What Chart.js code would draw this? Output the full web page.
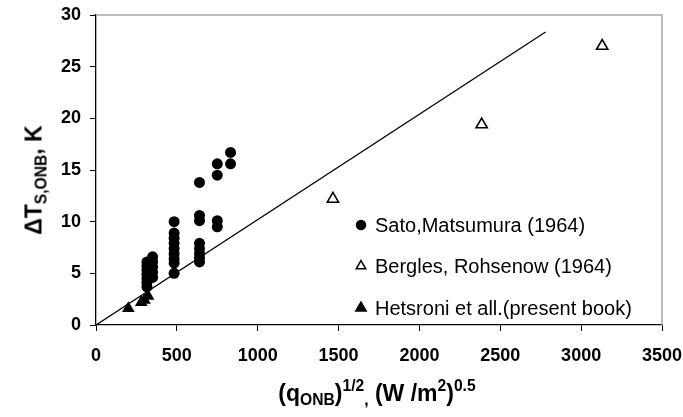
<!DOCTYPE html>
<html><head><meta charset="utf-8">
<script src="https://cdn.jsdelivr.net/npm/chart.js@4.4.0/dist/chart.umd.min.js"></script>
<style>
html,body{margin:0;padding:0;background:#fff;}
#wrap{position:relative;width:683px;height:417px;}
.t{position:absolute;font-family:"Liberation Sans",Arial,sans-serif;font-weight:bold;color:#000;white-space:nowrap;line-height:1;}
#xt{left:377px;top:393px;transform:translate(-50%,-50%);font-size:23px;}
#yt{left:34px;top:180px;transform:translate(-50%,-50%) rotate(-90deg);font-size:23px;}
.sb{font-size:68%;vertical-align:-0.3em;line-height:0;}
.sp{font-size:68%;vertical-align:0.62em;line-height:0;}
</style></head>
<body><div id="wrap"><canvas id="c" width="683" height="417"></canvas>
<div class="t" id="xt">(q<span class="sb">ONB</span>)<span class="sp">1/2</span><span class="sb">,</span> (W /m<span class="sp">2</span>)<span class="sp">0.5</span></div>
<div class="t" id="yt">&Delta;T<span class="sb">S,ONB</span>, K</div>
</div>
<script>
// ---- data ----
const xAxisMin = 0, xAxisMax = 3500, xAxisStep = 500;
const yAxisMin = 0, yAxisMax = 30, yAxisStep = 5;

const satoLabel = "Sato,Matsumura (1964)";
const satoX = [315,315,315,315,315,315,315, 350,350,350,350,350,
               483,483,483,483,483,483,483,483,483,
               640,640,640,640,640,640,640,640,
               750,750,750,750, 832,832];
const satoY = [6.1,5.7,5.3,4.9,4.5,4.1,3.7, 6.6,6.1,5.6,5.1,4.6,
               10.0,8.9,8.4,7.9,7.4,6.9,6.4,6.0,5.0,
               13.8,10.6,10.1,7.9,7.4,6.9,6.5,6.1,
               15.6,14.5,10.1,9.5, 16.7,15.6];

const berglesLabel = "Bergles, Rohsenow (1964)";
const berglesX = [1465, 2385, 3130];
const berglesY = [12.2, 19.4, 27.0];

const hetsroniLabel = "Hetsroni et all.(present book)";
const hetsroniX = [200, 280, 300, 322];
const hetsroniY = [1.6, 2.2, 2.4, 2.8];

const lineX = [0, 2780];
const lineY = [0, 28.35];

const pts = (xs, ys) => xs.map((x, i) => ({x: x, y: ys[i]}));
const FONT = '"Liberation Sans", Arial, sans-serif';

const frame = {
  id: 'frame',
  beforeDatasetsDraw(chart) {
    const a = chart.chartArea, ctx = chart.ctx;
    ctx.save();
    ctx.strokeStyle = '#a6a6a6';
    ctx.lineWidth = 1.5;
    ctx.beginPath();
    ctx.moveTo(a.left, a.top);
    ctx.lineTo(a.right, a.top);
    ctx.lineTo(a.right, a.bottom);
    ctx.stroke();
    ctx.restore();
  }
};

const legendRows = [
  {label: satoLabel, style: 'circle', fill: true, r: 4.5},
  {label: berglesLabel, style: 'triangle', fill: false, r: 5.5},
  {label: hetsroniLabel, style: 'triangle', fill: true, r: 6}
];
const textLegend = {
  id: 'textLegend',
  afterDraw(chart) {
    const a = chart.chartArea, ctx = chart.ctx;
    ctx.save();
    ctx.font = '20px ' + FONT;
    ctx.textBaseline = 'middle';
    const mx = a.left + 265, tx = a.left + 279;
    const ys = [a.top + 210, a.top + 251, a.top + 293];
    legendRows.forEach((row, i) => {
      ctx.fillStyle = row.fill ? '#000' : 'rgba(0,0,0,0)';
      ctx.strokeStyle = '#000';
      ctx.lineWidth = 1.5;
      Chart.helpers.drawPoint(ctx, {
        pointStyle: row.style, radius: row.r, rotation: 0, borderWidth: 1.5
      }, mx, ys[i]);
      ctx.fillStyle = '#000';
      ctx.fillText(row.label, tx, ys[i] + 1);
    });
    ctx.restore();
  }
};

const plainTick = v => String(v);

new Chart(document.getElementById('c'), {
  type: 'scatter',
  data: {
    datasets: [
      {label: 'line', type: 'line', data: pts(lineX, lineY), borderColor: '#000',
       borderWidth: 1.3, pointRadius: 0, fill: false, order: 10, tension: 0},
      {label: satoLabel, data: pts(satoX, satoY), pointStyle: 'circle', pointRadius: 5.5,
       backgroundColor: '#000', borderColor: '#000', borderWidth: 0, order: 1},
      {label: berglesLabel, data: pts(berglesX, berglesY), pointStyle: 'triangle', pointRadius: 6.5,
       backgroundColor: 'rgba(0,0,0,0)', borderColor: '#000', borderWidth: 1.6, order: 2},
      {label: hetsroniLabel, data: pts(hetsroniX, hetsroniY), pointStyle: 'triangle', pointRadius: 7.3,
       backgroundColor: '#000', borderColor: '#000', borderWidth: 0, order: 0}
    ]
  },
  options: {
    responsive: false,
    animation: false,
    events: [],
    layout: {padding: {left: 0, right: 21, top: 15, bottom: 0}},
    plugins: {legend: {display: false}, tooltip: {enabled: false}},
    scales: {
      x: {
        type: 'linear', min: xAxisMin, max: xAxisMax,
        ticks: {stepSize: xAxisStep, color: '#000', padding: 14, callback: plainTick,
                font: {family: FONT, size: 18, weight: 'bold'}, maxRotation: 0},
        grid: {display: true, drawOnChartArea: false, drawTicks: true, tickLength: 6, color: '#000', tickWidth: 1},
        border: {display: true, color: '#000', width: 1.3},
        afterFit(s) { s.height = 92; s.paddingLeft = 0; s.paddingRight = 0; }
      },
      y: {
        type: 'linear', min: yAxisMin, max: yAxisMax,
        ticks: {stepSize: yAxisStep, color: '#000', padding: 9, callback: plainTick,
                font: {family: FONT, size: 18, weight: 'bold'}},
        grid: {display: true, drawOnChartArea: false, drawTicks: true, tickLength: 6, color: '#000', tickWidth: 1},
        border: {display: true, color: '#000', width: 1.3},
        afterFit(s) { s.width = 96; s.paddingTop = 0; s.paddingBottom = 0; }
      }
    }
  },
  plugins: [frame, textLegend]
});
</script>
</body></html>
